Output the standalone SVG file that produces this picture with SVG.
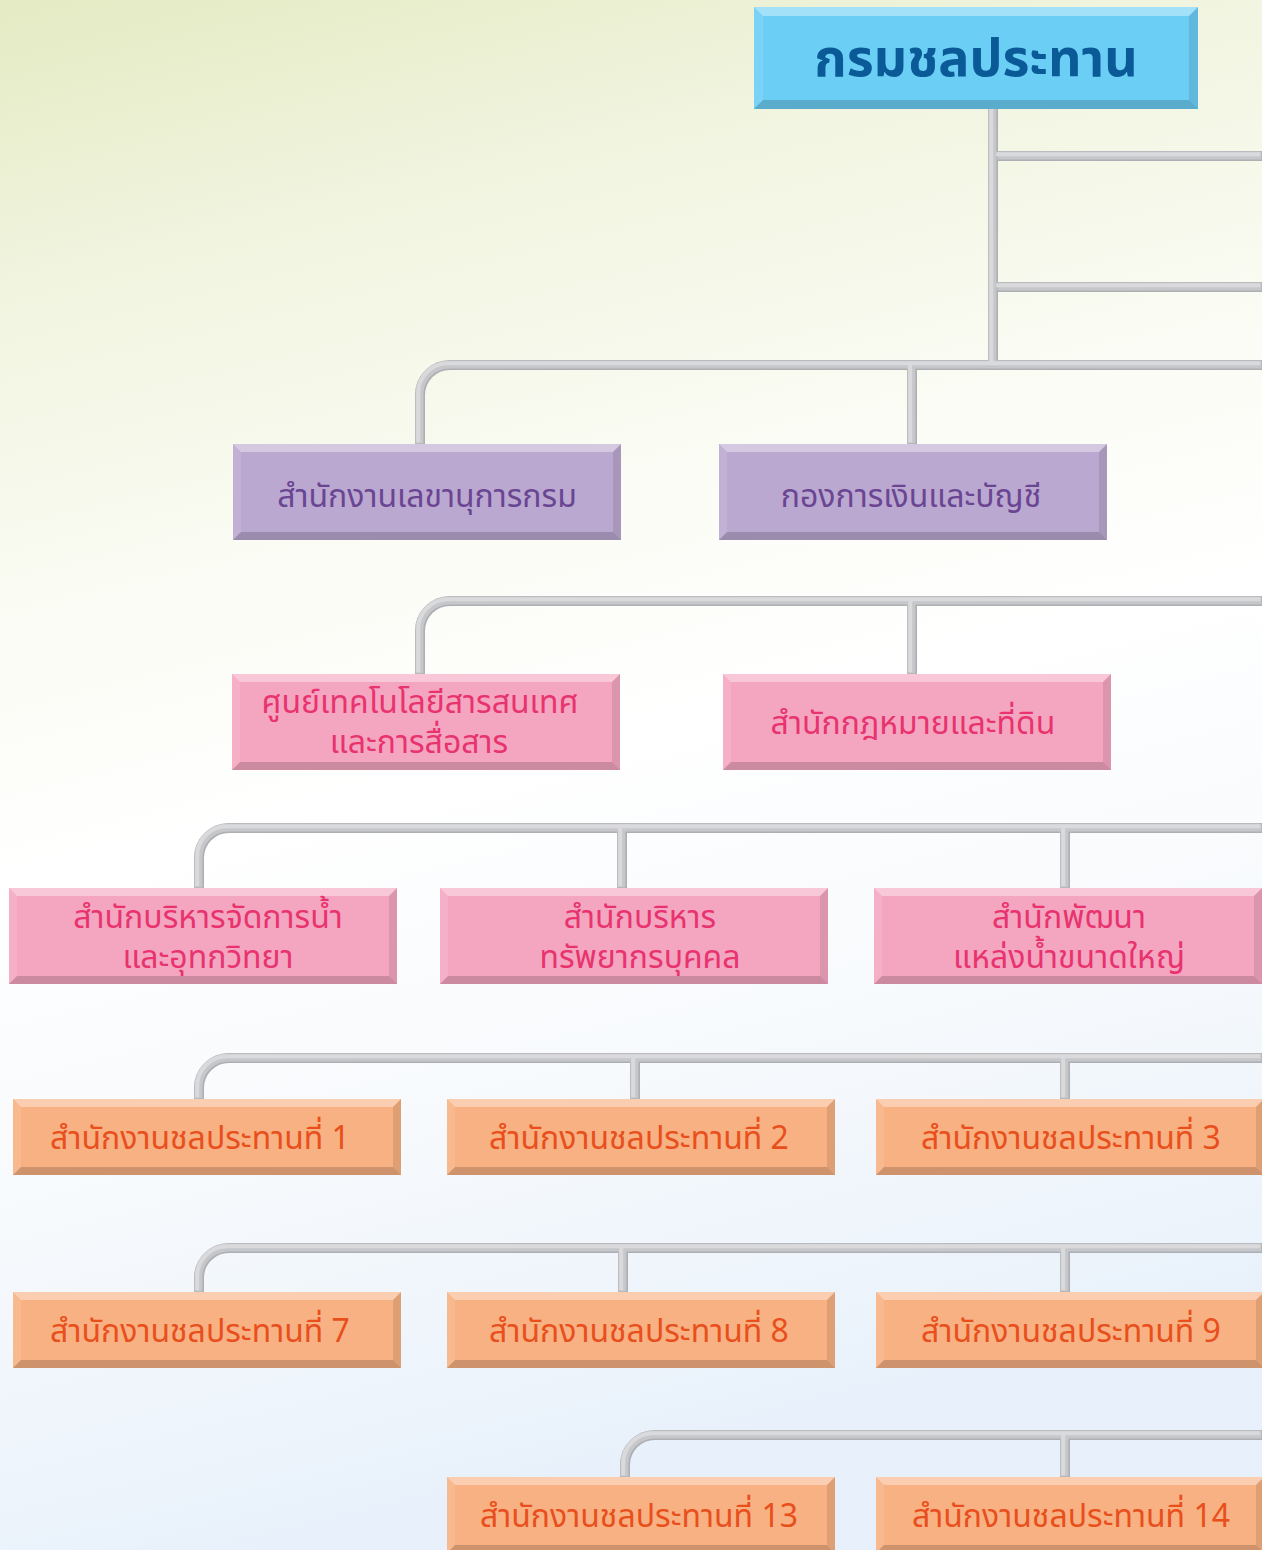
<svg xmlns="http://www.w3.org/2000/svg" xmlns:xlink="http://www.w3.org/1999/xlink" width="1262" height="1550" viewBox="0 0 1262 1550">
<style>
.pipe{fill:none;stroke:#aeafb3;stroke-width:10;stroke-linecap:butt}
.pmid{fill:none;stroke:#c6c7ca;stroke-width:8;stroke-linecap:butt}
.phl{fill:none;stroke:#dadadd;stroke-width:4;stroke-linecap:butt}
.fb{fill:#6bcff5}.fp{fill:#bba8d1}.fk{fill:#f4a6c1}.fo{fill:#f8b183}
.bt{fill:#fff;fill-opacity:.38}.bl{fill:#fff;fill-opacity:.1}.br{fill:#000;fill-opacity:.1}.bb{fill:#000;fill-opacity:.17}
text{font-family:"Noto Sans Thai","Noto Sans","DejaVu Sans",sans-serif;text-anchor:middle}
.tb{font-size:52px;font-weight:bold;fill:#0b5a98}
.tp{font-size:32px;fill:#6a4592}
.tk{font-size:32px;fill:#e8336e}
.to{font-size:32px;fill:#e84f1c}
</style>
<defs>
<linearGradient id="bg" x1="0" y1="0" x2="0.2" y2="1">
<stop offset="0" stop-color="#e4ebc3"/>
<stop offset="0.18" stop-color="#f1f4df"/>
<stop offset="0.4" stop-color="#fbfcf5"/>
<stop offset="0.55" stop-color="#ffffff"/>
<stop offset="0.78" stop-color="#f6f9fc"/>
<stop offset="1" stop-color="#e8f1fb"/>
</linearGradient>
<g id="bv102"><polygon class="bt" points="0,0 444,0 435,9 9,9"/><polygon class="bl" points="0,0 9,9 9,93 0,102"/><polygon class="br" points="444,0 444,102 435,93 435,9"/><polygon class="bb" points="0,102 444,102 435,93 9,93"/></g>
<g id="bv96"><polygon class="bt" points="0,0 388,0 380,8 8,8"/><polygon class="bl" points="0,0 8,8 8,88 0,96"/><polygon class="br" points="388,0 388,96 380,88 380,8"/><polygon class="bb" points="0,96 388,96 380,88 8,88"/></g>
<g id="bv76"><polygon class="bt" points="0,0 388,0 380,8 8,8"/><polygon class="bl" points="0,0 8,8 8,68 0,76"/><polygon class="br" points="388,0 388,76 380,68 380,8"/><polygon class="bb" points="0,76 388,76 380,68 8,68"/></g>
</defs>
<rect width="1262" height="1550" fill="url(#bg)"/>
<g id="connectors">
<g class="pipe">
<g id="pipes">
<path id="c1" d="M993 109 V367"/>
<path id="c2" d="M998 156 H1262"/>
<path id="c3" d="M998 287 H1262"/>
<path id="s2a" d="M912 365 V444"/>
<path id="c4" d="M1262 365 H450 A30 30 0 0 0 420 395 V444"/>
<path id="s3a" d="M912 601 V674"/>
<path id="c5" d="M1262 601 H450 A30 30 0 0 0 420 631 V674"/>
<path id="s4a" d="M622 828 V888"/>
<path id="s4b" d="M1065 828 V888"/>
<path id="c6" d="M1262 828 H229 A30 30 0 0 0 199 858 V888"/>
<path id="s5a" d="M635 1058 V1099"/>
<path id="s5b" d="M1065 1058 V1099"/>
<path id="c7" d="M1262 1058 H229 A30 30 0 0 0 199 1088 V1099"/>
<path id="s6a" d="M623 1248 V1292"/>
<path id="s6b" d="M1065 1248 V1292"/>
<path id="c8" d="M1262 1248 H229 A30 30 0 0 0 199 1278 V1292"/>
<path id="s7a" d="M1065 1435 V1477"/>
<path id="c9" d="M1262 1435 H655 A30 30 0 0 0 625 1465 V1477"/>
</g>
</g>
<g class="pmid" transform="translate(-0.6,-0.6)"><use xlink:href="#pipes"/></g>
<g class="phl" transform="translate(-1.8,-1.8)"><use xlink:href="#pipes"/></g>
</g>
<g id="n0"><rect class="fb" x="754" y="7" width="444" height="102"/><use xlink:href="#bv102" x="754" y="7"/><text class="tb" x="976" y="76">กรมชลประทาน</text></g>
<g id="n1"><rect class="fp" x="233" y="444" width="388" height="96"/><use xlink:href="#bv96" x="233" y="444"/><text class="tp" x="427" y="507">สำนักงานเลขานุการกรม</text></g>
<g id="n2"><rect class="fp" x="719" y="444" width="388" height="96"/><use xlink:href="#bv96" x="719" y="444"/><text class="tp" x="911" y="507">กองการเงินและบัญชี</text></g>
<g id="n3"><rect class="fk" x="232" y="674" width="388" height="96"/><use xlink:href="#bv96" x="232" y="674"/><text class="tk"><tspan x="420" y="713">ศูนย์เทคโนโลยีสารสนเทศ</tspan><tspan x="419" y="753">และการสื่อสาร</tspan></text></g>
<g id="n4"><rect class="fk" x="723" y="674" width="388" height="96"/><use xlink:href="#bv96" x="723" y="674"/><text class="tk" x="913" y="734">สำนักกฎหมายและที่ดิน</text></g>
<g id="n5"><rect class="fk" x="9" y="888" width="388" height="96"/><use xlink:href="#bv96" x="9" y="888"/><text class="tk"><tspan x="208" y="928">สำนักบริหารจัดการน้ำ</tspan><tspan x="208" y="968">และอุทกวิทยา</tspan></text></g>
<g id="n6"><rect class="fk" x="440" y="888" width="388" height="96"/><use xlink:href="#bv96" x="440" y="888"/><text class="tk"><tspan x="640" y="928">สำนักบริหาร</tspan><tspan x="640" y="968">ทรัพยากรบุคคล</tspan></text></g>
<g id="n7"><rect class="fk" x="874" y="888" width="388" height="96"/><use xlink:href="#bv96" x="874" y="888"/><text class="tk"><tspan x="1069" y="928">สำนักพัฒนา</tspan><tspan x="1069" y="968">แหล่งน้ำขนาดใหญ่</tspan></text></g>
<g id="n8"><rect class="fo" x="13" y="1099" width="388" height="76"/><use xlink:href="#bv76" x="13" y="1099"/><text class="to" x="200" y="1149">สำนักงานชลประทานที่ 1</text></g>
<g id="n9"><rect class="fo" x="447" y="1099" width="388" height="76"/><use xlink:href="#bv76" x="447" y="1099"/><text class="to" x="639" y="1149">สำนักงานชลประทานที่ 2</text></g>
<g id="n10"><rect class="fo" x="876" y="1099" width="388" height="76"/><use xlink:href="#bv76" x="876" y="1099"/><text class="to" x="1071" y="1149">สำนักงานชลประทานที่ 3</text></g>
<g id="n11"><rect class="fo" x="13" y="1292" width="388" height="76"/><use xlink:href="#bv76" x="13" y="1292"/><text class="to" x="200" y="1342">สำนักงานชลประทานที่ 7</text></g>
<g id="n12"><rect class="fo" x="447" y="1292" width="388" height="76"/><use xlink:href="#bv76" x="447" y="1292"/><text class="to" x="639" y="1342">สำนักงานชลประทานที่ 8</text></g>
<g id="n13"><rect class="fo" x="876" y="1292" width="388" height="76"/><use xlink:href="#bv76" x="876" y="1292"/><text class="to" x="1071" y="1342">สำนักงานชลประทานที่ 9</text></g>
<g id="n14"><rect class="fo" x="447" y="1477" width="388" height="76"/><use xlink:href="#bv76" x="447" y="1477"/><text class="to" x="639" y="1527">สำนักงานชลประทานที่ 13</text></g>
<g id="n15"><rect class="fo" x="876" y="1477" width="388" height="76"/><use xlink:href="#bv76" x="876" y="1477"/><text class="to" x="1071" y="1527">สำนักงานชลประทานที่ 14</text></g>
</svg>
